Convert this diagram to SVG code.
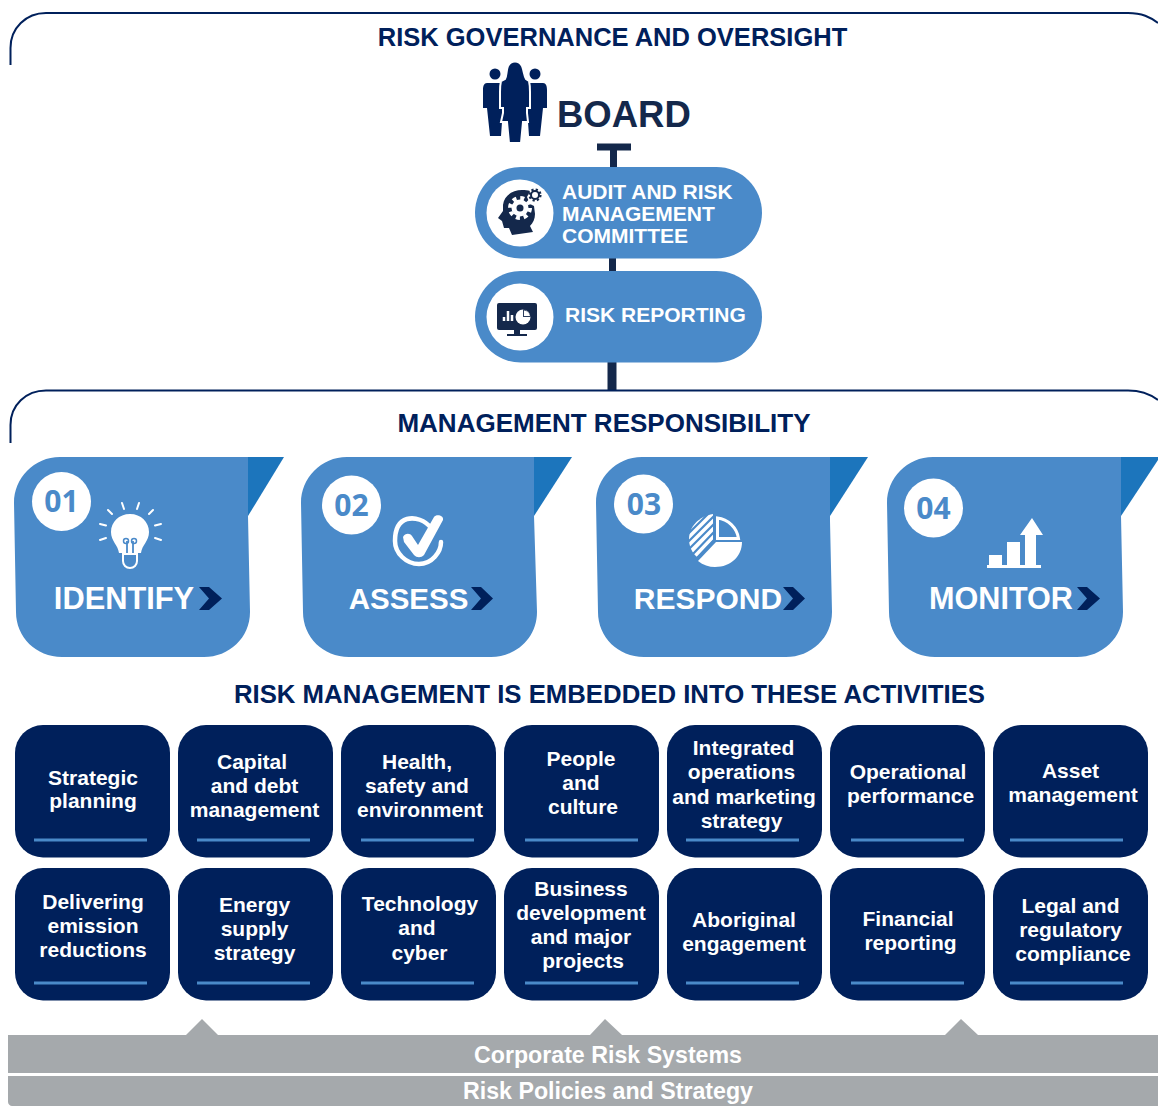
<svg xmlns="http://www.w3.org/2000/svg" width="1158" height="1106" viewBox="0 0 1158 1106">
<style>
text{font-family:"Liberation Sans",Arial,sans-serif;font-weight:700}
.h{fill:#00205b;font-size:25.5px;text-anchor:middle}
.p{fill:#fff;font-size:21px}
.t{fill:#fff;font-size:21px;text-anchor:middle}
.c{fill:#fff;font-size:30px;text-anchor:middle}
.n{fill:#4a8ac9;font-size:30px;text-anchor:middle;font-family:"Open Sans","DejaVu Sans",sans-serif}
.g{fill:#fff;font-size:23.2px;text-anchor:middle}
.card{fill:#4a8ac9}
.fold{fill:#1c75bc}
.tile{fill:#00205b}
.rule{stroke:#4a8ac9;stroke-width:3}
.arc{fill:none;stroke:#00205b;stroke-width:2}
.link{stroke:#14284b;fill:none}
.bar{fill:#a5a9ac}
.chev{fill:#00205b}
.iw{fill:#fff}
.iwl{fill:none;stroke:#fff;stroke-linecap:round}
.nv{fill:#00205b}
.dk{fill:#14284b}
</style>

<g id="connectors">
<path class="link" stroke-width="7" d="M613.500 145V170M612.500 255V275"/>
<path class="link" stroke-width="9" d="M612 360V390"/>
<path class="link" stroke-width="7" d="M597 147H631"/>
</g>

<g id="governance">
<path class="arc" d="M10.500 65V48C10.500 28 26 13 46 13H1128C1142 13 1150 17 1158 23"/>
<text class="h" x="612.500" y="46">RISK GOVERNANCE AND OVERSIGHT</text>
</g>

<g id="board">
<circle class="nv" cx="495" cy="74" r="5.500"/>
<circle class="nv" cx="535" cy="74" r="5.500"/>
<path class="nv" d="M487 83H502V122L501 136H490L487 108H483V90C483 86 484 83 487 83Z"/>
<path class="nv" d="M543 83H528V122L529 136H540L543 108H547V90C547 86 546 83 543 83Z"/>
<path class="nv" stroke="#fff" stroke-width="2" d="M508 66C511 60 519 60 522 66C524 71 524 76 526 79L529 81C530 85 530 88 530 92V108H527V113L528 122H523L521 143H509L507 122H501L503 113V108H500V92C500 88 500 85 501 81L505 79C507 76 506 71 508 66Z"/>
<text x="557" y="127" fill="#14284b" style="font-size:36.500px">BOARD</text>
</g>

<g id="audit">
<rect class="card" x="475" y="167" width="287" height="91.500" rx="45.700"/>
<circle class="iw" cx="520" cy="213" r="33.500"/>
<path class="dk" d="M503 205C504 195 513 190 522 190C525 190 528 190 530 191L527 197L530 204L534 206L535 214C535 219 533 223 530 226L533 232L512 235L509 228H504L502 221L498 218L503 211Z"/>
<circle class="iw" cx="520" cy="208" r="8.500"/>
<circle cx="520" cy="208" r="10" fill="none" stroke="#fff" stroke-width="4" stroke-dasharray="4 3.850"/>
<circle class="dk" cx="520" cy="208" r="3.500"/>
<circle cx="535" cy="195" r="4" fill="none" stroke="#14284b" stroke-width="2"/>
<circle cx="535" cy="195" r="5.500" fill="none" stroke="#14284b" stroke-width="2.200" stroke-dasharray="2.200 2.120"/>
<text class="p" x="562" y="199">AUDIT AND RISK</text>
<text class="p" x="562" y="220.500">MANAGEMENT</text>
<text class="p" x="562" y="243">COMMITTEE</text>
</g>

<g id="reporting">
<rect class="card" x="475" y="271" width="287" height="91.500" rx="45.700"/>
<circle class="iw" cx="520" cy="317" r="33.500"/>
<rect class="dk" x="497" y="303" width="40" height="27" rx="2"/>
<path class="dk" d="M514 330H520V334H527V336H507V334H514Z"/>
<path d="M504 321V317M508 321V311M512 321V315" stroke="#fff" stroke-width="2.500"/>
<circle class="iw" cx="523" cy="317" r="7.500"/>
<path class="dk" d="M523 309.500V317H530.500L531 315L525 309Z" opacity=".9"/>
<path class="iw" d="M524 310.500A7 7 0 0 1 530 316H524Z"/>
<text class="p" x="565" y="322">RISK REPORTING</text>
</g>

<g id="management">
<path class="arc" d="M10.500 443V425C10.500 405 26 390.500 46 390.500H1128C1142 390.500 1150 394 1158 400"/>
<text class="h" x="604" y="432" style="font-size:26px">MANAGEMENT RESPONSIBILITY</text>
</g>

<g id="identify">
<path class="card" d="M60 457H248V516L250 612C250 638 229 657 204 657H62C36 657 16 637 16 612L14 503C14 478 34 457 60 457Z"/>
<path class="fold" d="M248 457H284L248 516Z"/>
<circle class="iw" cx="61.500" cy="501.500" r="29.500"/>
<text class="n" x="61.500" y="512">01</text>
<path class="iw" d="M130 514C141 514 149 522 149 532C149 541 142 545 141 553H119C118 545 111 541 111 532C111 522 119 514 130 514Z"/>
<path class="iwl" stroke-width="2" d="M123 554H137V561C137 565 134 568 130 568C126 568 123 565 123 561Z"/>
<path fill="none" stroke="#4a8ac9" stroke-width="1.800" d="M127 553V541M133 553V541"/>
<circle cx="126" cy="541" r="2.500" fill="none" stroke="#4a8ac9" stroke-width="1.500"/>
<circle cx="134" cy="541" r="2.500" fill="none" stroke="#4a8ac9" stroke-width="1.500"/>
<path class="iwl" stroke-width="2" d="M122 503L124 509M139 503L137 509M108 510L112 514M153 510L149 514M100 524L106 525.500M161 524L155 525.500M100 540L106 538M161 540L155 538"/>
<text class="c" x="124" y="609" style="font-size:30.800px">IDENTIFY</text>
<path class="chev" d="M199 587H209L222 598.500L209 610H199L209 598.500Z"/>
</g>

<g id="assess">
<path class="card" d="M347 457H534V516L537 612C537 638 516 657 491 657H349C323 657 303 637 303 612L301 503C301 478 321 457 347 457Z"/>
<path class="fold" d="M534 457H572L534 516Z"/>
<circle class="iw" cx="351.500" cy="505" r="29.500"/>
<text class="n" x="351.500" y="516">02</text>
<path class="iwl" stroke-width="4.500" d="M431 528C425 520 415 517 407 519C397 522 395 531 395 541C395 553 406 564 419 564C432 564 441 552 441 542"/>
<path class="iw" d="M403 537C405 533 410 533 412 536L418 545L434 517C436 514 444 515 443 520L424 555C421 558 417 558 414 555L404 542Z"/>
<text class="c" x="408.500" y="609" style="font-size:29.500px">ASSESS</text>
<path class="chev" d="M471 587H481L493 598.500L481 610H471L481 598.500Z"/>
</g>

<g id="respond">
<path class="card" d="M642 457H830V521L832 612C832 638 811 657 786 657H644C618 657 598 637 598 612L596 503C596 478 616 457 642 457Z"/>
<path class="fold" d="M830 457H868L830 516Z"/>
<circle class="iw" cx="643.500" cy="504" r="29.500"/>
<text class="n" x="644" y="515">03</text>
<path fill="none" stroke="#fff" stroke-width="3" d="M717.500 518C728 519 737 528 738.500 538.500H717.500Z"/>
<path class="iw" d="M742 542C742 556 731 567 715 567C709 567 703 565 698 561L716 542Z"/>
<path class="iw" d="M713 514V540L697 557C690 551 689 543 689 539C689 527 699 516 713 514Z"/>
<path stroke="#4a8ac9" stroke-width="2.200" d="M686 536L713 509M686 544L714 516M688 550L714 524M692 555L714 532M696 559L714 540"/>
<text class="c" x="708" y="609">RESPOND</text>
<path class="chev" d="M783 587H793L805 598.500L793 610H783L793 598.500Z"/>
</g>

<g id="monitor">
<path class="card" d="M933 457H1121V516L1123 612C1123 638 1102 657 1077 657H935C909 657 889 637 889 612L887 503C887 478 907 457 933 457Z"/>
<path class="fold" d="M1121 457H1160L1121 516Z"/>
<circle class="iw" cx="933.500" cy="508" r="29.500"/>
<text class="n" x="933.500" y="519">04</text>
<path class="iw" d="M989 555H1002V567H989ZM1007 542H1020V567H1007ZM1025 535H1036V567H1025ZM1020 535L1032 518L1043 535ZM987 565H1041V568H987Z"/>
<text class="c" x="1001" y="609" style="font-size:30.600px">MONITOR</text>
<path class="chev" d="M1077 587H1087L1100 598.500L1087 610H1077L1087 598.500Z"/>
</g>

<g id="embedded">
<text class="h" x="609.500" y="703" style="font-size:25.750px">RISK MANAGEMENT IS EMBEDDED INTO THESE ACTIVITIES</text>
</g>

<g id="t1"><rect class="tile" x="15" y="725" width="155" height="132.500" rx="28"/><path class="rule" d="M34 840H147"/><text class="t" x="93" y="785">Strategic</text><text class="t" x="93" y="808">planning</text></g>
<g id="t2"><rect class="tile" x="178" y="725" width="155" height="132.500" rx="28"/><path class="rule" d="M197 840H310"/><text class="t" x="252" y="769">Capital</text><text class="t" x="254.500" y="793">and debt</text><text class="t" x="254.500" y="817">management</text></g>
<g id="t3"><rect class="tile" x="341" y="725" width="155" height="132.500" rx="28"/><path class="rule" d="M361 840H474"/><text class="t" x="417" y="769">Health,</text><text class="t" x="417" y="793">safety and</text><text class="t" x="420" y="817">environment</text></g>
<g id="t4"><rect class="tile" x="504" y="725" width="155" height="132.500" rx="28"/><path class="rule" d="M525 840H638"/><text class="t" x="581" y="766">People</text><text class="t" x="581" y="790">and</text><text class="t" x="583" y="814">culture</text></g>
<g id="t5"><rect class="tile" x="667" y="725" width="155" height="132.500" rx="28"/><path class="rule" d="M686 840H799"/><text class="t" x="743.500" y="755">Integrated</text><text class="t" x="741.500" y="779">operations</text><text class="t" x="744" y="804">and marketing</text><text class="t" x="741.500" y="828">strategy</text></g>
<g id="t6"><rect class="tile" x="830" y="725" width="155" height="132.500" rx="28"/><path class="rule" d="M851 840H964"/><text class="t" x="908" y="779">Operational</text><text class="t" x="910.500" y="803">performance</text></g>
<g id="t7"><rect class="tile" x="993" y="725" width="155" height="132.500" rx="28"/><path class="rule" d="M1010 840H1123"/><text class="t" x="1070.500" y="778">Asset</text><text class="t" x="1073" y="802">management</text></g>

<g id="t8"><rect class="tile" x="15" y="868" width="155" height="132.500" rx="28"/><path class="rule" d="M34 983H147"/><text class="t" x="93" y="909">Delivering</text><text class="t" x="93" y="933">emission</text><text class="t" x="93" y="957">reductions</text></g>
<g id="t9"><rect class="tile" x="178" y="868" width="155" height="132.500" rx="28"/><path class="rule" d="M197 983H310"/><text class="t" x="254.500" y="912">Energy</text><text class="t" x="254.500" y="936">supply</text><text class="t" x="254.500" y="960">strategy</text></g>
<g id="t10"><rect class="tile" x="341" y="868" width="155" height="132.500" rx="28"/><path class="rule" d="M361 983H474"/><text class="t" x="420" y="911">Technology</text><text class="t" x="417" y="935">and</text><text class="t" x="419.500" y="960">cyber</text></g>
<g id="t11"><rect class="tile" x="504" y="868" width="155" height="132.500" rx="28"/><path class="rule" d="M525 983H638"/><text class="t" x="581" y="896">Business</text><text class="t" x="581" y="920">development</text><text class="t" x="581" y="944">and major</text><text class="t" x="583" y="968">projects</text></g>
<g id="t12"><rect class="tile" x="667" y="868" width="155" height="132.500" rx="28"/><path class="rule" d="M686 983H799"/><text class="t" x="744" y="927">Aboriginal</text><text class="t" x="744" y="951">engagement</text></g>
<g id="t13"><rect class="tile" x="830" y="868" width="155" height="132.500" rx="28"/><path class="rule" d="M851 983H964"/><text class="t" x="908" y="926">Financial</text><text class="t" x="910.500" y="950">reporting</text></g>
<g id="t14"><rect class="tile" x="993" y="868" width="155" height="132.500" rx="28"/><path class="rule" d="M1010 983H1123"/><text class="t" x="1070.500" y="913">Legal and</text><text class="t" x="1070.500" y="937">regulatory</text><text class="t" x="1073" y="961">compliance</text></g>

<g id="systems">
<path class="bar" d="M8 1035H186L202 1019L218 1035H590L605 1019L622 1035H945L961 1019L978 1035H1158V1073H8Z"/>
<text class="g" x="608" y="1063">Corporate Risk Systems</text>
</g>
<g id="policies">
<path class="bar" d="M8 1076H1158V1106H12C10 1106 8 1104 8 1102Z"/>
<text class="g" x="608" y="1099">Risk Policies and Strategy</text>
</g>
</svg>
